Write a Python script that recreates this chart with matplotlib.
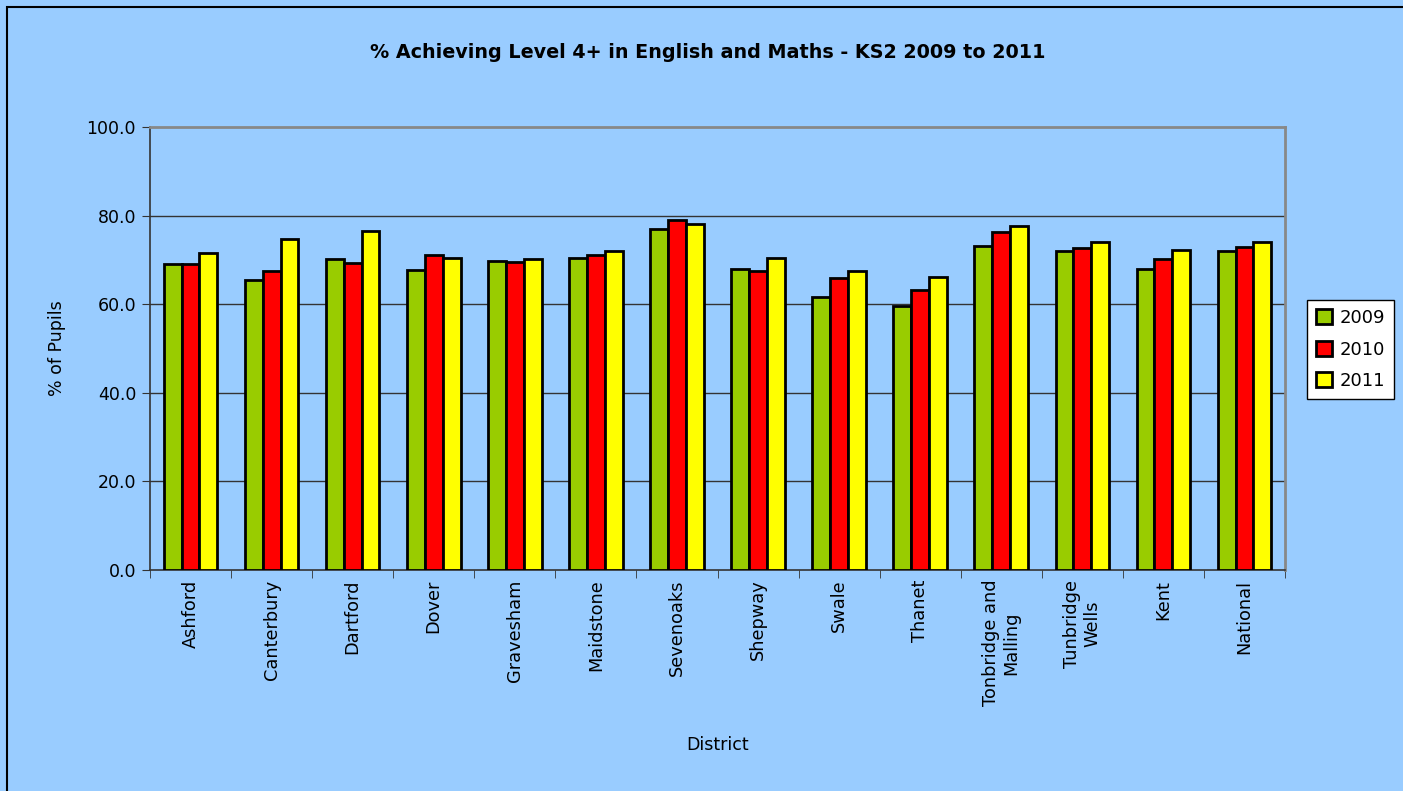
import matplotlib
matplotlib.use("Agg")
import matplotlib.pyplot as plt
import numpy as np
from matplotlib.patches import Rectangle

districts = ["Ashford", "Canterbury", "Dartford", "Dover", "Gravesham", "Maidstone",
             "Sevenoaks", "Shepway", "Swale", "Thanet", "Tonbridge and\nMalling",
             "Tunbridge\nWells", "Kent", "National"]
y2009 = [69.0, 65.4, 70.2, 67.7, 69.8, 70.5, 77.0, 67.9, 61.7, 59.7, 73.1, 72.1, 68.0, 72.0]
y2010 = [69.0, 67.4, 69.3, 71.1, 69.5, 71.0, 78.9, 67.4, 65.9, 63.2, 76.3, 72.6, 70.1, 73.0]
y2011 = [71.5, 74.8, 76.5, 70.5, 70.1, 71.9, 78.1, 70.4, 67.5, 66.2, 77.7, 74.0, 72.2, 74.0]
series = [("2009", y2009, "#99CC00"), ("2010", y2010, "#FF0000"), ("2011", y2011, "#FFFF00")]
yticks = [0, 20, 40, 60, 80, 100]

W, H = 1403, 791
fig = plt.figure(figsize=(W / 100, H / 100), dpi=100)
bg = "#99CCFF"
fig.patch.set_facecolor(bg)
fig.patches.append(Rectangle((7 / W, -0.01), 1.2, 1 - 7 / H + 0.01, transform=fig.transFigure,
                             fill=False, edgecolor="black", linewidth=1.5))

ax = fig.add_axes([150 / W, 1 - 570 / H, (1285 - 150) / W, (570 - 127) / H])
ax.set_facecolor(bg)

n = len(districts)
x = np.arange(n)
bw = 0.22
for i, (name, vals, col) in enumerate(series):
    ax.bar(x + (i - 1) * bw, vals, width=bw, color=col, edgecolor="black",
           linewidth=2.0, label=name, zorder=3)

ax.set_xlim(-0.5, n - 0.5)
ax.set_ylim(0, 100)
ax.set_yticks(yticks)
ax.set_yticklabels([f"{v:.1f}" for v in yticks], fontsize=12.5, color="black")
for v in yticks[1:-1]:
    ax.axhline(v, color="#333333", linewidth=1.0, zorder=1)

ax.set_xticks(x)
ax.set_xticklabels(districts, rotation=90, fontsize=12.8, va="top", ha="center",
                   multialignment="center")
ax.tick_params(axis="x", length=0, pad=7)
ax.set_xticks(np.arange(-0.5, n, 1), minor=True)
ax.tick_params(axis="x", which="minor", length=6, direction="out", color="#333333")
ax.tick_params(axis="y", length=6, direction="out", color="#333333", pad=4)

for s in ["top", "right"]:
    ax.spines[s].set_color("#888888")
    ax.spines[s].set_linewidth(2)
for s in ["left", "bottom"]:
    ax.spines[s].set_color("#333333")
    ax.spines[s].set_linewidth(1.2)

ax.set_ylabel("% of Pupils", fontsize=12.5, labelpad=15)
ax.set_xlabel("District", fontsize=12.5)
ax.xaxis.set_label_coords(0.5, -(745 - 570) / (570 - 127))
ax.xaxis.label.set_va("center")

fig.text(708 / W, 1 - 53 / H, "% Achieving Level 4+ in English and Maths - KS2 2009 to 2011",
         ha="center", va="center", fontsize=13.8, fontweight="bold")

leg = fig.legend(loc="upper left", bbox_to_anchor=(1307 / W, 1 - 300 / H), fontsize=13,
                 frameon=True, fancybox=False, edgecolor="black", facecolor="white",
                 framealpha=1, handlelength=0.9, handleheight=0.9, handletextpad=0.4,
                 borderpad=0.5, labelspacing=0.75, borderaxespad=0)
leg.get_frame().set_linewidth(1.0)

fig.savefig("out.png", dpi=100, facecolor=fig.get_facecolor())
